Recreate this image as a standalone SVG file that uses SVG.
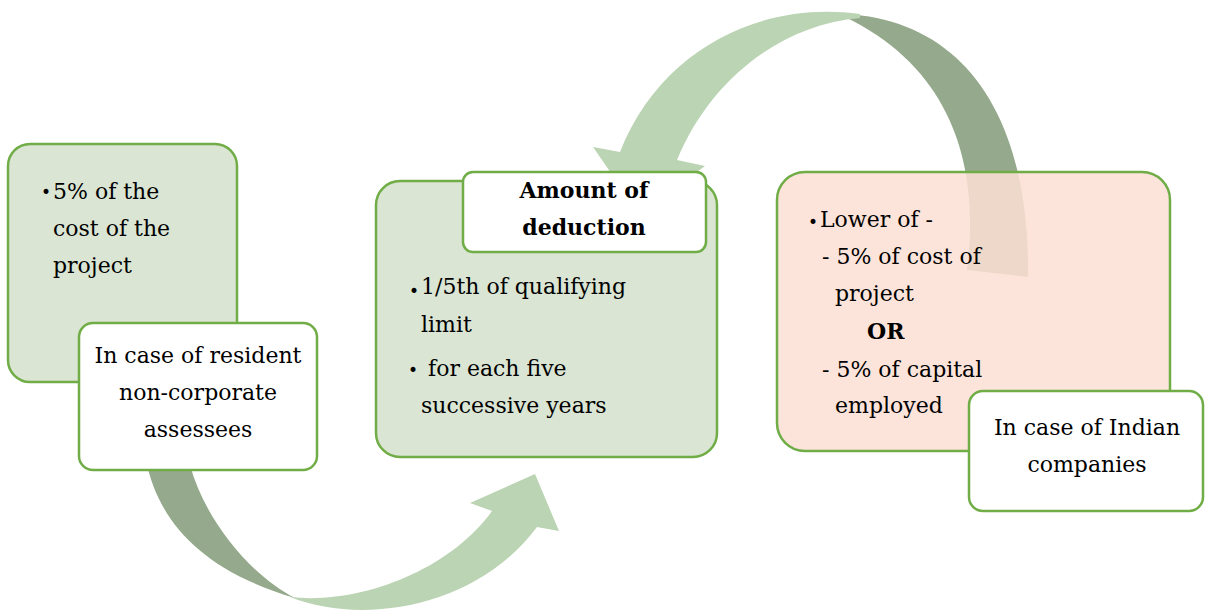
<svg xmlns="http://www.w3.org/2000/svg" width="1205" height="611" viewBox="0 0 1205 611">
<style>
.g{fill:#dae5d3;stroke:#70ad47;stroke-width:2.5}
.p{fill:#fbdfd4;fill-opacity:0.86;stroke:#70ad47;stroke-width:2.5}
.w{fill:#ffffff;stroke:#70ad47;stroke-width:2.5}
.t{font-family:"DejaVu Serif","Liberation Serif",serif;font-size:22px;fill:#000}
.c{text-anchor:middle}
.b{font-weight:bold}
.bu{font-family:"DejaVu Sans",sans-serif;font-size:17px;fill:#000}
.lt{fill:#bbd4b3}
.dk{fill:#95a98c}
</style>
<g id="connectors">
<path class="dk" d="M 845,14 C 960,20 1030,110 1028,277 L 967,270 C 980,170 955,70 845,17 Z"/>
<path class="lt" d="M 860,14 C 760,0 660,50 620,152 L 593,147 L 640,215 L 705,166 L 677,160 C 710,80 780,25 860,18 Z"/>
<path class="dk" d="M 146,460 C 158,520 200,570 295,598 C 250,575 205,520 190,465 Z"/>
<path class="lt" d="M 290,597 C 360,625 475,610 537,527 L 559,531 L 535,474 L 470,503 L 492,511 C 450,570 360,605 290,597 Z"/>
</g>
<g id="node-left">
<rect class="g" x="8" y="144" width="229" height="238" rx="22"/>
<text class="bu" x="41" y="198">•</text>
<text class="t" x="53" y="199">5% of the</text>
<text class="t" x="53" y="236">cost of the</text>
<text class="t" x="53" y="273">project</text>
</g>
<g id="label-left">
<rect class="w" x="79" y="323" width="238" height="147" rx="14"/>
<text class="t c" x="198" y="363">In case of resident</text>
<text class="t c" x="198" y="400">non-corporate</text>
<text class="t c" x="198" y="437">assessees</text>
</g>
<g id="node-middle">
<rect class="g" x="376" y="181" width="341" height="276" rx="24"/>
<text class="bu" x="409" y="297">•</text>
<text class="t" x="421" y="294">1/5th of qualifying</text>
<text class="t" x="421" y="332">limit</text>
<text class="bu" x="408" y="376">•</text>
<text class="t" x="428" y="376">for each five</text>
<text class="t" x="421" y="413">successive years</text>
</g>
<g id="title-middle">
<rect class="w" x="463" y="172" width="243" height="80" rx="10"/>
<text class="t c b" x="584" y="198">Amount of</text>
<text class="t c b" x="584" y="235">deduction</text>
</g>
<g id="node-right">
<rect class="p" x="777" y="172" width="393" height="279" rx="28"/>
<text class="bu" x="808" y="228">•</text>
<text class="t" x="820" y="227">Lower of -</text>
<text class="t" x="822" y="264">- 5% of cost of</text>
<text class="t" x="835" y="301">project</text>
<text class="t b" x="867" y="339">OR</text>
<text class="t" x="822" y="377">- 5% of capital</text>
<text class="t" x="835" y="413">employed</text>
</g>
<g id="label-right">
<rect class="w" x="969" y="391" width="234" height="120" rx="14"/>
<text class="t c" x="1087" y="435">In case of Indian</text>
<text class="t c" x="1087" y="472">companies</text>
</g>
</svg>
